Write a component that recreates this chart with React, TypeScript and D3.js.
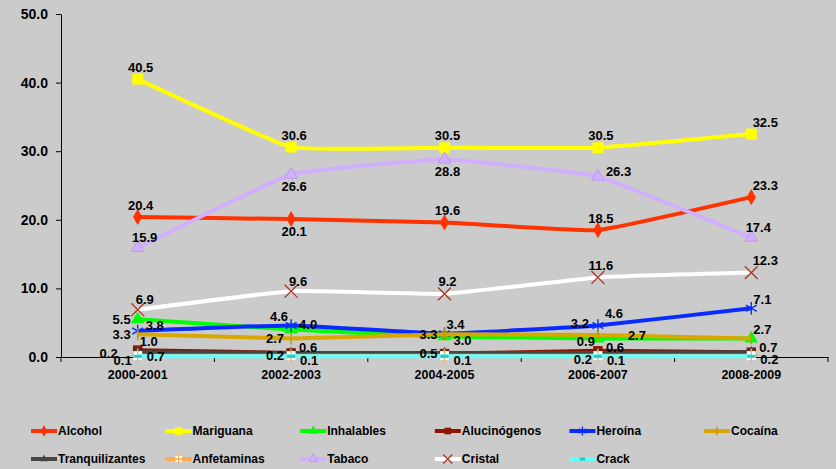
import React, { useEffect, useRef } from "react";
import * as d3 from "d3";

// periods on the x axis
const periods = ["2000-2001", "2002-2003", "2004-2005", "2006-2007", "2008-2009"];
const yTicks = [0, 10, 20, 30, 40, 50];

// prevalence values per substance
const alcohol = [20.4, 20.1, 19.6, 18.5, 23.3];
const mariguana = [40.5, 30.6, 30.5, 30.5, 32.5];
const inhalables = [5.5, 4.0, 3.0, 2.7, 2.7];
const alucinogenos = [1.0, 0.6, 0.5, 0.9, 0.7];
const heroina = [3.8, 4.6, 3.4, 4.6, 7.1];
const cocaina = [3.3, 2.7, 3.3, 3.2, 2.7];
const tranquilizantes = [0.7, 0.6, 0.6, 0.6, 0.7];
const anfetaminas = [0.2, 0.2, 0.2, 0.2, 0.2];
const tabaco = [15.9, 26.6, 28.8, 26.3, 17.4];
const cristal = [6.9, 9.6, 9.2, 11.6, 12.3];
const crack = [0.1, 0.1, 0.1, 0.1, 0.1];

// where each data label sits (null = hidden behind others in the original)
const alcoholLbl = ["above", "below", "above", "above", "aboveR"];
const mariguanaLbl = ["above", "above", "above", "above", "aboveR"];
const inhalablesLbl = ["left", "right", "rightDown", "rightFar", "rightUp"];
const alucinogenosLbl = ["rightUp", null, "left", "leftUp", null];
const heroinaLbl = ["right", "leftUp", "rightUp", "rightUp2", "rightUp"];
const cocainaLbl = ["left", "left", "left", "leftUp2", null];
const tranquilizantesLbl = ["rightDown", "right", null, "right", "right"];
const anfetaminasLbl = ["leftFar", "left", null, "leftDown", "rightDown"];
const tabacoLbl = ["aboveS", "below", "below", "right", "aboveS"];
const cristalLbl = ["aboveS", "aboveS", "above", "above", "aboveR"];
const crackLbl = ["leftDown", "rightDown", "rightDown", "rightDown", null];

const PLACE: Record<string, [string, number, number]> = {
  above: ["middle", 3, -12],
  aboveR: ["middle", 14, -12],
  aboveS: ["middle", 7, -10],
  below: ["middle", 3, 12],
  right: ["start", 8, -5],
  rightUp: ["start", 2, -9],
  rightUp2: ["start", 7, -12],
  rightDown: ["start", 9, 4],
  rightFar: ["start", 30, -3],
  left: ["end", -7, 0],
  leftUp: ["end", -3, -9],
  leftUp2: ["end", -9, -12],
  leftDown: ["end", -6, 4],
  leftFar: ["end", -20, -2],
};

const series = [
  { name: "Alcohol", values: alcohol, labels: alcoholLbl, color: "#FF3300", marker: "diamond" },
  { name: "Mariguana", values: mariguana, labels: mariguanaLbl, color: "#FFFF00", marker: "square" },
  { name: "Inhalables", values: inhalables, labels: inhalablesLbl, color: "#00FF00", marker: "triangle" },
  { name: "Alucinógenos", values: alucinogenos, labels: alucinogenosLbl, color: "#8B1500", marker: "squareSmall" },
  { name: "Heroína", values: heroina, labels: heroinaLbl, color: "#0A2BFF", marker: "asterisk" },
  { name: "Cocaína", values: cocaina, labels: cocainaLbl, color: "#D9A800", marker: "tick" },
  { name: "Tranquilizantes", values: tranquilizantes, labels: tranquilizantesLbl, color: "#454545", marker: "triangleSmall" },
  { name: "Anfetaminas", values: anfetaminas, labels: anfetaminasLbl, color: "#FFAA4C", marker: "cross" },
  { name: "Tabaco", values: tabaco, labels: tabacoLbl, color: "#D2AEFF", marker: "triangleBig" },
  { name: "Cristal", values: cristal, labels: cristalLbl, color: "#FFFFFF", marker: "times" },
  { name: "Crack", values: crack, labels: crackLbl, color: "#66FFFF", marker: "dash" },
];

const FONT = "'Liberation Sans', Arial, sans-serif";

function drawMarker(g: any, kind: string, color: string, s: number) {
  const sym = (type: any, size: number) => d3.symbol().type(type).size(size * s * s)();
  if (kind === "diamond") {
    g.append("path").attr("d", sym(d3.symbolDiamond, 75)).attr("fill", color);
  } else if (kind === "square") {
    g.append("path").attr("d", sym(d3.symbolSquare, 120)).attr("fill", color);
  } else if (kind === "squareSmall") {
    g.append("path").attr("d", sym(d3.symbolSquare, 90)).attr("fill", color);
  } else if (kind === "triangle") {
    g.append("path").attr("d", sym(d3.symbolTriangle, 80)).attr("fill", color);
  } else if (kind === "triangleSmall") {
    g.append("path").attr("d", sym(d3.symbolTriangle, 50)).attr("fill", color);
  } else if (kind === "triangleBig") {
    g.append("path").attr("d", sym(d3.symbolTriangle, 70)).attr("fill", color)
      .attr("stroke", "#B596E6").attr("stroke-width", 0.8);
  } else if (kind === "asterisk") {
    g.append("path").attr("d", sym(d3.symbolAsterisk, 110)).attr("fill", "none")
      .attr("stroke", color).attr("stroke-width", 1.4);
  } else if (kind === "tick") {
    g.append("line").attr("y1", -6 * s).attr("y2", 6 * s).attr("stroke", "#C89A00").attr("stroke-width", 1.5);
  } else if (kind === "cross") {
    g.append("rect").attr("x", -4.5 * s).attr("y", -4.5 * s).attr("width", 9 * s).attr("height", 9 * s).attr("fill", "#FFFFFF");
    g.append("path").attr("d", sym(d3.symbolPlus, 70)).attr("fill", "none")
      .attr("stroke", color).attr("stroke-width", 1.3);
  } else if (kind === "times") {
    g.append("path").attr("d", sym(d3.symbolTimes, 110)).attr("fill", "none")
      .attr("stroke", "#A83424").attr("stroke-width", 1.3);
  } else if (kind === "dash") {
    g.append("rect").attr("x", -4 * s).attr("y", -1.5).attr("width", 8 * s).attr("height", 3).attr("fill", "#33C4C4");
  }
}

const Chart = () => {
  const ref = useRef<SVGSVGElement>(null);

  useEffect(() => {
    const svg = d3.select(ref.current);
    svg.selectAll("*").remove();

    const width = 836, height = 469;
    const margin = { top: 14, right: 8, bottom: 112, left: 61 };

    svg.append("rect").attr("width", width).attr("height", height).attr("fill", "#CBCBCB");

    const x = d3.scaleBand().domain(periods).range([margin.left, width - margin.right]);
    const y = d3.scaleLinear().domain([0, 50]).range([height - margin.bottom, margin.top]);
    const cx = (i: number) => (x(periods[i]) as number) + x.bandwidth() / 2;

    // Y axis
    const yAxis = svg.append("g")
      .attr("transform", `translate(${margin.left},0)`)
      .call(d3.axisLeft(y).tickValues(yTicks).tickFormat(d3.format(".1f")).tickSize(5).tickSizeOuter(0).tickPadding(8));
    yAxis.selectAll("text").attr("font-size", 14).attr("font-weight", "bold").attr("font-family", FONT).attr("fill", "#000");

    // X axis
    const xAxis = svg.append("g")
      .attr("transform", `translate(0,${y(0)})`)
      .call(d3.axisBottom(x).tickSize(0).tickSizeOuter(0).tickPadding(13));
    xAxis.selectAll("text").attr("font-size", 12.5).attr("font-weight", "bold").attr("font-family", FONT).attr("fill", "#000");
    const bounds = periods.map((p) => x(p) as number).concat([x.range()[1]]);
    svg.append("g").selectAll("line").data(bounds).enter().append("line")
      .attr("x1", (d) => d).attr("x2", (d) => d)
      .attr("y1", y(0)).attr("y2", y(0) + 5)
      .attr("stroke", "#000");

    const line = d3.line<number>()
      .x((_, i) => cx(i))
      .y((d) => y(d))
      .curve(d3.curveCardinal.tension(0.7));

    // Series lines and markers
    series.forEach((s) => {
      svg.append("path")
        .datum(s.values)
        .attr("fill", "none")
        .attr("stroke", s.color)
        .attr("stroke-width", 4)
        .attr("d", line);
      s.values.forEach((v, i) => {
        const g = svg.append("g").attr("transform", `translate(${cx(i)},${y(v)})`);
        drawMarker(g, s.marker, s.color, 1);
      });
    });

    // Data labels
    series.forEach((s) => {
      s.values.forEach((v, i) => {
        const code = s.labels[i];
        if (!code) return;
        const [anchor, dx, dy] = PLACE[code];
        svg.append("text")
          .attr("x", cx(i) + dx)
          .attr("y", y(v) + dy)
          .attr("text-anchor", anchor)
          .attr("dominant-baseline", "central")
          .attr("font-family", FONT)
          .attr("font-weight", "bold")
          .attr("font-size", 13)
          .attr("fill", "#000")
          .text(d3.format(".1f")(v));
      });
    });

    // Legend
    const legend = svg.append("g");
    series.forEach((s, i) => {
      const col = i % 6, row = Math.floor(i / 6);
      const lx = 31 + col * 134.6, ly = 431 + row * 28;
      const item = legend.append("g").attr("transform", `translate(${lx},${ly})`);
      item.append("line").attr("x1", 0).attr("x2", 26).attr("stroke", s.color).attr("stroke-width", 4);
      drawMarker(item.append("g").attr("transform", "translate(13,0)"), s.marker, s.color, 0.7);
      item.append("text")
        .attr("x", 27)
        .attr("dominant-baseline", "central")
        .attr("font-family", FONT)
        .attr("font-weight", "bold")
        .attr("font-size", 12)
        .attr("fill", "#000")
        .text(s.name);
    });
  }, []);

  return (
    <svg
      ref={ref}
      width={836}
      height={469}
      style={{ position: "absolute", left: 0, top: 0, display: "block" }}
    />
  );
};

export default function App() {
  return <Chart />;
}
